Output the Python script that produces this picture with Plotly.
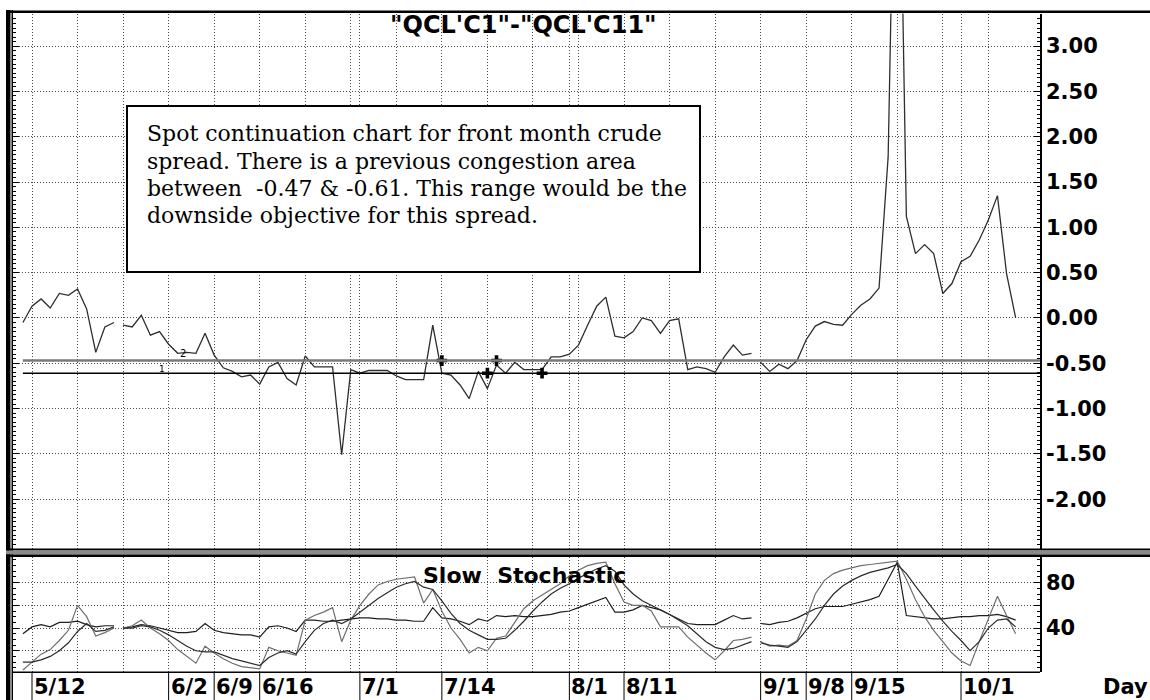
import pandas as pd
import plotly.graph_objects as go

# ---------------- data ----------------
# weekday calendar (holidays included as slots), 5/9/2003 .. 10/9/2003
trade_dates = pd.bdate_range("2003-05-09", "2003-10-09")
date_labels = [f"{d.month}/{d.day}" for d in trade_dates]

spread = [
    -0.05, 0.13, 0.21, 0.11, 0.27, 0.25, 0.32, 0.10, -0.38, -0.10, -0.05,
    -0.08, -0.10, 0.03, -0.19, -0.15, -0.29, -0.39, -0.38, -0.39, -0.17,
    -0.41, -0.55, -0.59, -0.65, -0.63, -0.73, -0.54, -0.49, -0.67, -0.74,
    -0.42, -0.54, -0.54, -0.54, -1.51, -0.57, -0.61, -0.58, -0.58, -0.58,
    -0.64, -0.68, -0.68, -0.68, -0.08, -0.61, -0.63, -0.74, -0.89, -0.59,
    -0.78, -0.52, -0.61, -0.49, -0.57, -0.57, -0.57, -0.43, -0.43, -0.40,
    -0.30, -0.08, 0.13, 0.23, -0.20, -0.22, -0.15, 0.00, -0.03, -0.17,
    -0.03, -0.01, -0.57, -0.54, -0.56, -0.60, -0.43, -0.30, -0.41, -0.39,
    -0.49, -0.59, -0.51, -0.56, -0.47, -0.24, -0.09, -0.04, -0.07, -0.08,
    0.04, 0.14, 0.21, 0.33, 1.78, 7.00, 1.12, 0.71, 0.81, 0.71,
    0.27, 0.38, 0.62, 0.68, 0.86, 1.08, 1.35, 0.49, 0.00,
]

stoch_k = [
    3, 10, 17, 21, 29, 38, 60, 50, 33, 36, 40,
    40, 42, 47, 40, 35, 29, 21, 15, 9, 24,
    18, 13, 9, 6, 5, 4, 23, 20, 18, 16,
    47, 51, 54, 58, 28, 47, 60, 70, 78, 81,
    83, 84, 85, 62, 74, 55, 40, 30, 18, 23,
    20, 31, 33, 45, 57, 64, 69, 74, 79, 86,
    91, 95, 97, 98, 79, 63, 60, 60, 55, 41,
    41, 41, 32, 25, 18, 12, 20, 29, 30, 32,
    28, 24, 25, 24, 29, 48, 70, 82, 88, 91,
    93, 95, 96, 97, 98, 99, 83, 65, 50, 38,
    28, 18, 11, 7, 28, 48, 68, 51, 35,
]

stoch_d = [
    10, 10, 12, 15, 20, 27, 37, 44, 37, 38, 41,
    40, 40, 42, 41, 38, 34, 29, 24, 20, 19,
    19, 16, 13, 11, 9, 7, 14, 18, 20, 17,
    28, 38, 44, 47, 44, 48, 54, 60, 66, 71,
    76, 79, 81, 76, 74, 64, 53, 44, 38, 34,
    30, 30, 31, 38, 46, 55, 63, 70, 75, 79,
    84, 88, 92, 95, 90, 78, 70, 64, 60, 56,
    52, 47, 42, 35, 28, 23, 21, 22, 25, 28,
    27, 25, 24, 23, 28, 38, 48, 60, 70, 77,
    82, 86, 89, 91, 93, 96, 88, 77, 66, 56,
    46, 37, 29, 20, 28, 40, 47, 48, 41,
]

stoch_slow = [
    35, 41, 43, 41, 45, 45, 46, 43, 41, 42, 42,
    40, 41, 43, 42, 40, 38, 36, 36, 37, 44,
    38, 36, 35, 34, 34, 32, 41, 42, 40, 37,
    47, 47, 46, 46, 47, 48, 49, 49, 48, 48,
    47, 47, 46, 46, 58, 49, 48, 46, 43, 48,
    46, 51, 50, 51, 50, 50, 51, 52, 54, 55,
    58, 61, 64, 67, 54, 54, 56, 60, 58, 56,
    52, 48, 44, 43, 43, 43, 47, 51, 48, 49,
    44, 43, 45, 46, 49, 53, 57, 59, 59, 59,
    61, 63, 65, 68, 83, 98, 51, 50, 49, 48,
    48, 49, 50, 50, 51, 51, 52, 50, 47,
]

line_breaks_after = ["5/23", "8/29"]          # line not joined after these days
congestion_top = -0.47
congestion_bottom = -0.61
signal_dates = ["7/14", "7/21", "7/22", "7/29"]
signal_values = [-0.47, -0.61, -0.47, -0.61]

x_tick_labels = ["5/12", "6/2", "6/9", "6/16", "7/1", "7/14", "8/1",
                 "8/11", "9/1", "9/8", "9/15", "10/1"]
price_ticks = [-2.0, -1.5, -1.0, -0.5, 0.0, 0.5, 1.0, 1.5, 2.0, 2.5, 3.0]
stoch_grid = [20, 40, 60, 80]
stoch_labels = [40, 80]

title_text = "\"QCL'C1\"-\"QCL'C11\""
note_lines = [
    "Spot continuation chart for front month crude",
    "spread. There is a previous congestion area",
    "between\u00a0 -0.47 & -0.61. This range would be the",
    "downside objective for this spread.",
]

# ---------------- helpers ----------------
W, H = 1150, 700
def px_x(p):
    return p / W
def px_y(p):
    return 1 - p / H

pos = {lab: i for i, lab in enumerate(date_labels)}
xs = list(range(len(date_labels)))

# split into segments at the break days
cuts = [pos[b] for b in line_breaks_after]
bounds = [0] + [c + 1 for c in cuts] + [len(xs)]
segments = [(bounds[i], bounds[i + 1]) for i in range(len(bounds) - 1)]

fig = go.Figure()

for a, b in segments:
    fig.add_trace(go.Scatter(x=xs[a:b], y=spread[a:b], mode="lines",
                             line=dict(color="#2e2e2e", width=1.3),
                             xaxis="x", yaxis="y", showlegend=False,
                             hoverinfo="skip"))

fig.add_trace(go.Scatter(x=[pos[d] for d in signal_dates], y=signal_values,
                         mode="markers",
                         marker=dict(symbol="cross", size=9, color="black",
                                     line=dict(width=0)),
                         xaxis="x", yaxis="y", showlegend=False,
                         hoverinfo="skip"))

stoch_styles = [(stoch_slow, "#1e1e1e"), (stoch_k, "#6e6e6e"), (stoch_d, "#2c2c2c")]
for series, col in stoch_styles:
    for a, b in segments:
        fig.add_trace(go.Scatter(x=xs[a:b], y=series[a:b], mode="lines",
                                 line=dict(color=col, width=1.2),
                                 xaxis="x2", yaxis="y2", showlegend=False,
                                 hoverinfo="skip"))

# axis geometry
left_px, right_px = 13, 1040
main_top, main_bot = 13.5, 549
st_top, st_bot = 557, 672.3
x_first = pos["5/12"]
day_px = 9.108
x_range = [x_first + (left_px - 32) / day_px, x_first + (right_px - 32) / day_px]

grid_x = sorted(set(list(range(x_first, pos["10/9"], 5)) + [pos[l] for l in x_tick_labels]))

dot = "1px,2px"
grid_col = "#4a4a4a"
tick_font = dict(family="DejaVu Sans", size=21, color="black", weight="bold")

common_x = dict(range=x_range, tickmode="array", tickvals=grid_x,
                showticklabels=False, ticks="", showgrid=True,
                gridcolor=grid_col, griddash=dot, gridwidth=1,
                zeroline=False, showline=False, fixedrange=True)

fig.update_layout(
    width=W, height=H,
    margin=dict(l=0, r=0, t=0, b=0),
    paper_bgcolor="white", plot_bgcolor="white",
    showlegend=False,
    xaxis=dict(domain=[px_x(left_px), px_x(right_px)], anchor="y", **common_x),
    xaxis2=dict(domain=[px_x(left_px), px_x(right_px)], anchor="y2",
                matches="x", **common_x),
    yaxis=dict(domain=[px_y(main_bot), px_y(main_top)], anchor="x",
               range=[-2.55, 3.36], side="right",
               tickmode="array", tickvals=price_ticks,
               ticktext=[f"{v:.2f}" for v in price_ticks],
               tickfont=tick_font, ticks="inside", ticklen=6,
               tickcolor="black", ticklabelstandoff=0,
               minor=dict(dtick=0.05, ticks="inside", ticklen=3,
                          tickcolor="black", showgrid=False),
               showgrid=True, gridcolor=grid_col, griddash=dot,
               zeroline=False, showline=True, linecolor="black",
               linewidth=1.5, mirror="ticks", fixedrange=True),
    yaxis2=dict(domain=[px_y(st_bot), px_y(st_top)], anchor="x2",
                range=[1, 102.6], side="right",
                tickmode="array", tickvals=stoch_grid,
                ticktext=[str(v) if v in stoch_labels else "" for v in stoch_grid],
                tickfont=tick_font, ticks="inside", ticklen=6,
                tickcolor="black", ticklabelstandoff=0,
                minor=dict(dtick=5, ticks="inside", ticklen=3,
                           tickcolor="black", showgrid=False),
                showgrid=True, gridcolor=grid_col, griddash=dot,
                zeroline=False, showline=True, linecolor="black",
                linewidth=1.5, mirror="ticks", fixedrange=True),
)

shapes = []
# congestion lines
shapes.append(dict(type="line", xref="x", yref="y", x0=0, x1=x_range[1],
                   y0=congestion_top, y1=congestion_top,
                   line=dict(color="#7a7a7a", width=2.5)))
shapes.append(dict(type="line", xref="x", yref="y", x0=0, x1=x_range[1],
                   y0=congestion_bottom, y1=congestion_bottom,
                   line=dict(color="black", width=1.5)))
# note box
shapes.append(dict(type="rect", xref="paper", yref="paper",
                   x0=px_x(127), x1=px_x(700), y0=px_y(272), y1=px_y(106),
                   fillcolor="white", line=dict(color="black", width=2),
                   layer="above"))
# frame: left double border
shapes.append(dict(type="rect", xref="paper", yref="paper",
                   x0=px_x(6), x1=px_x(10), y0=0, y1=px_y(10),
                   fillcolor="black", line=dict(width=0)))
shapes.append(dict(type="rect", xref="paper", yref="paper",
                   x0=px_x(10), x1=px_x(12), y0=0, y1=px_y(10),
                   fillcolor="#8a8a8a", line=dict(width=0)))
shapes.append(dict(type="line", xref="paper", yref="paper",
                   x0=px_x(12.5), x1=px_x(12.5), y0=0, y1=px_y(10),
                   line=dict(color="black", width=1)))
# top border
shapes.append(dict(type="rect", xref="paper", yref="paper",
                   x0=px_x(6), x1=1, y0=px_y(13), y1=px_y(10.5),
                   fillcolor="black", line=dict(width=0)))
# separator between panels
shapes.append(dict(type="rect", xref="paper", yref="paper",
                   x0=px_x(6), x1=1, y0=px_y(550.5), y1=px_y(548.5),
                   fillcolor="black", line=dict(width=0)))
shapes.append(dict(type="rect", xref="paper", yref="paper",
                   x0=px_x(6), x1=1, y0=px_y(554.5), y1=px_y(550.5),
                   fillcolor="#8a8a8a", line=dict(width=0)))
shapes.append(dict(type="rect", xref="paper", yref="paper",
                   x0=px_x(6), x1=1, y0=px_y(557), y1=px_y(554.5),
                   fillcolor="black", line=dict(width=0)))
# bottom line of stochastic panel
shapes.append(dict(type="line", xref="paper", yref="paper",
                   x0=px_x(12), x1=px_x(right_px), y0=px_y(st_bot), y1=px_y(st_bot),
                   line=dict(color="black", width=1.5)))
# date tick separators under the labels
for lab in x_tick_labels:
    shapes.append(dict(type="line", xref="x2", yref="paper",
                       x0=pos[lab], x1=pos[lab], y0=0, y1=px_y(st_bot),
                       line=dict(color="black", width=1)))

annotations = []
annotations.append(dict(text=title_text, xref="paper", yref="paper",
                        x=px_x(523), y=px_y(25), xanchor="center",
                        yanchor="middle", showarrow=False,
                        font=dict(family="DejaVu Sans", size=24,
                                  color="black", weight="bold")))
annotations.append(dict(text="Slow\u00a0\u00a0Stochastic", xref="paper",
                        yref="paper", x=px_x(524), y=px_y(575),
                        xanchor="center", yanchor="middle", showarrow=False,
                        font=dict(family="DejaVu Sans", size=22,
                                  color="black", weight="bold")))
for i, line in enumerate(note_lines):
    annotations.append(dict(text=line, xref="paper", yref="paper",
                            x=px_x(146), y=px_y(134 + 27 * i),
                            xanchor="left", yanchor="middle",
                            showarrow=False, borderpad=0,
                            font=dict(family="DejaVu Serif", size=22,
                                      color="black")))
for lab in x_tick_labels:
    annotations.append(dict(text=lab, xref="x2", yref="paper",
                            x=pos[lab], y=px_y(687), xanchor="left",
                            yanchor="middle", showarrow=False, xshift=0,
                            font=tick_font))
annotations.append(dict(text="Day", xref="paper", yref="paper",
                        x=px_x(1101), y=px_y(687), xanchor="left",
                        yanchor="middle", showarrow=False, font=tick_font))
# labels of the two horizontal lines
annotations.append(dict(text="1", xref="x", yref="y", x=pos["5/30"] + 0.3,
                        y=congestion_bottom + 0.05, showarrow=False,
                        font=dict(family="DejaVu Sans", size=9, color="black")))
annotations.append(dict(text="2", xref="x", yref="y", x=pos["6/3"] + 0.6,
                        y=congestion_top + 0.08, showarrow=False,
                        font=dict(family="DejaVu Sans", size=10, color="black")))

fig.update_layout(shapes=shapes, annotations=annotations)

fig.write_html("out.html", config={"displayModeBar": False},
               post_script="document.body.style.margin='0';")
